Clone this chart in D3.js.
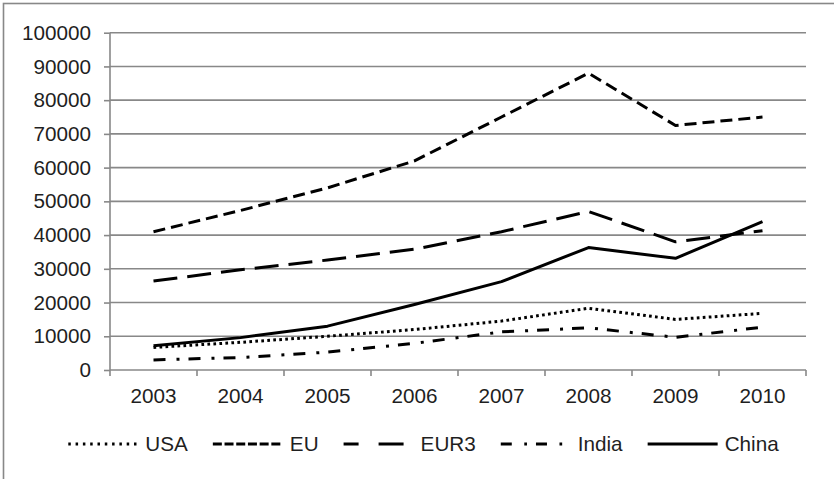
<!DOCTYPE html>
<html>
<head>
<meta charset="utf-8">
<script src="https://cdn.jsdelivr.net/npm/d3@7"></script>
<style>
  html, body { margin: 0; padding: 0; background: #fff; }
  svg { display: block; }
  text { font-family: "Liberation Sans", Arial, sans-serif; fill: #1f1f1f; }
</style>
</head>
<body>
<svg id="chart" width="834" height="479"></svg>
<script>
// Annual values per region, 2003–2010
const years = ["2003", "2004", "2005", "2006", "2007", "2008", "2009", "2010"];
const usa   = [6700, 8200, 10000, 12000, 14500, 18300, 15000, 16800];
const eu    = [41000, 47300, 54000, 62000, 75000, 88000, 72500, 75000];
const eur3  = [26400, 29700, 32600, 35800, 41000, 47000, 38000, 41300];
const india = [3000, 3700, 5300, 7900, 11300, 12500, 9700, 12700];
const china = [7200, 9600, 13000, 19400, 26200, 36300, 33100, 44000];
const seriesNames = ["USA", "EU", "EUR3", "India", "China"];
const yTicks = [0, 10000, 20000, 30000, 40000, 50000, 60000, 70000, 80000, 90000, 100000];

const seriesValues = { USA: usa, EU: eu, EUR3: eur3, India: india, China: china };

// stroke patterns for each series (plot / legend)
const lineStyle = {
  USA:   { dash: "2.7,3.3",       legendDash: "2.5,4.8" },
  EU:    { dash: "12,6",          legendDash: "9,2.7" },
  EUR3:  { dash: "24,10",         legendDash: "15,20,25,20" },
  India: { dash: "12,11,3,9",     legendDash: "11,12.5,2.7,9" },
  China: { dash: null,            legendDash: null }
};

const svg = d3.select("#chart");
const fontSize = 20.7;
const gridColor = "#888888";

// outer frame (right and bottom edges fall outside the canvas)
svg.append("rect")
  .attr("x", 3.5).attr("y", 3.5)
  .attr("width", 900).attr("height", 600)
  .attr("fill", "none").attr("stroke", gridColor).attr("stroke-width", 1.6);

const plot = { left: 110, right: 806, top: 32.7, bottom: 370 };

const x = d3.scaleBand().domain(years).range([plot.left, plot.right]).paddingInner(0).paddingOuter(0);
const y = d3.scaleLinear().domain([0, 100000]).range([plot.bottom, plot.top]);

// horizontal gridlines
svg.append("g").selectAll("line")
  .data(yTicks.filter(d => d > 0))
  .join("line")
  .attr("x1", plot.left).attr("x2", plot.right)
  .attr("y1", d => y(d)).attr("y2", d => y(d))
  .attr("stroke", gridColor).attr("stroke-width", 1.6);

// y axis
const yAxis = svg.append("g")
  .attr("transform", `translate(${plot.left},0)`)
  .call(d3.axisLeft(y).tickValues(yTicks).tickSize(6).tickPadding(13).tickFormat(d3.format("d")));
yAxis.select(".domain").attr("stroke", gridColor).attr("stroke-width", 1.6)
  .attr("d", `M0,${plot.bottom}V${plot.top}`);
yAxis.selectAll(".tick line").attr("stroke", gridColor).attr("stroke-width", 1.6);
yAxis.selectAll(".tick text")
  .attr("font-size", fontSize).attr("font-family", "Liberation Sans, Arial, sans-serif")
  .attr("fill", "#1f1f1f");

// x axis: baseline, ticks on category boundaries, labels at centres
const xAxis = svg.append("g");
xAxis.append("line")
  .attr("x1", plot.left).attr("x2", plot.right)
  .attr("y1", plot.bottom).attr("y2", plot.bottom)
  .attr("stroke", gridColor).attr("stroke-width", 1.6);
const boundaries = years.map(d => x(d)).concat([x(years[years.length - 1]) + x.bandwidth()]);
xAxis.selectAll("line.tick")
  .data(boundaries)
  .join("line").attr("class", "tick")
  .attr("x1", d => d).attr("x2", d => d)
  .attr("y1", plot.bottom).attr("y2", plot.bottom + 6)
  .attr("stroke", gridColor).attr("stroke-width", 1.6);
xAxis.selectAll("text")
  .data(years)
  .join("text")
  .attr("x", d => x(d) + x.bandwidth() / 2)
  .attr("y", 403)
  .attr("text-anchor", "middle")
  .attr("font-size", fontSize)
  .text(d => d);

// series lines
const line = d3.line()
  .x((d, i) => x(years[i]) + x.bandwidth() / 2)
  .y(d => y(d));

svg.append("g").selectAll("path")
  .data(seriesNames)
  .join("path")
  .attr("d", name => line(seriesValues[name]))
  .attr("fill", "none")
  .attr("stroke", "#000")
  .attr("stroke-width", 3)
  .attr("stroke-linejoin", "round")
  .attr("stroke-dasharray", name => lineStyle[name].dash);

// legend
const legendY = 444;
const swatchLen = 70, swatchGap = 7, itemGap = 25;
const legend = svg.append("g");
const measure = legend.append("text").attr("font-size", fontSize).attr("visibility", "hidden");
const widths = seriesNames.map(n => { measure.text(n); return measure.node().getComputedTextLength(); });
measure.remove();
const totalW = d3.sum(widths) + seriesNames.length * (swatchLen + swatchGap) + (seriesNames.length - 1) * itemGap;
let cursor = 423.5 - totalW / 2;
seriesNames.forEach((name, i) => {
  const g = legend.append("g");
  g.append("line")
    .attr("x1", cursor).attr("x2", cursor + swatchLen)
    .attr("y1", legendY).attr("y2", legendY)
    .attr("stroke", "#000").attr("stroke-width", 3)
    .attr("stroke-dasharray", lineStyle[name].legendDash);
  g.append("text")
    .attr("x", cursor + swatchLen + swatchGap)
    .attr("y", legendY)
    .attr("dy", "0.35em")
    .attr("font-size", fontSize)
    .text(name);
  cursor += swatchLen + swatchGap + widths[i] + itemGap;
});
</script>
</body>
</html>
